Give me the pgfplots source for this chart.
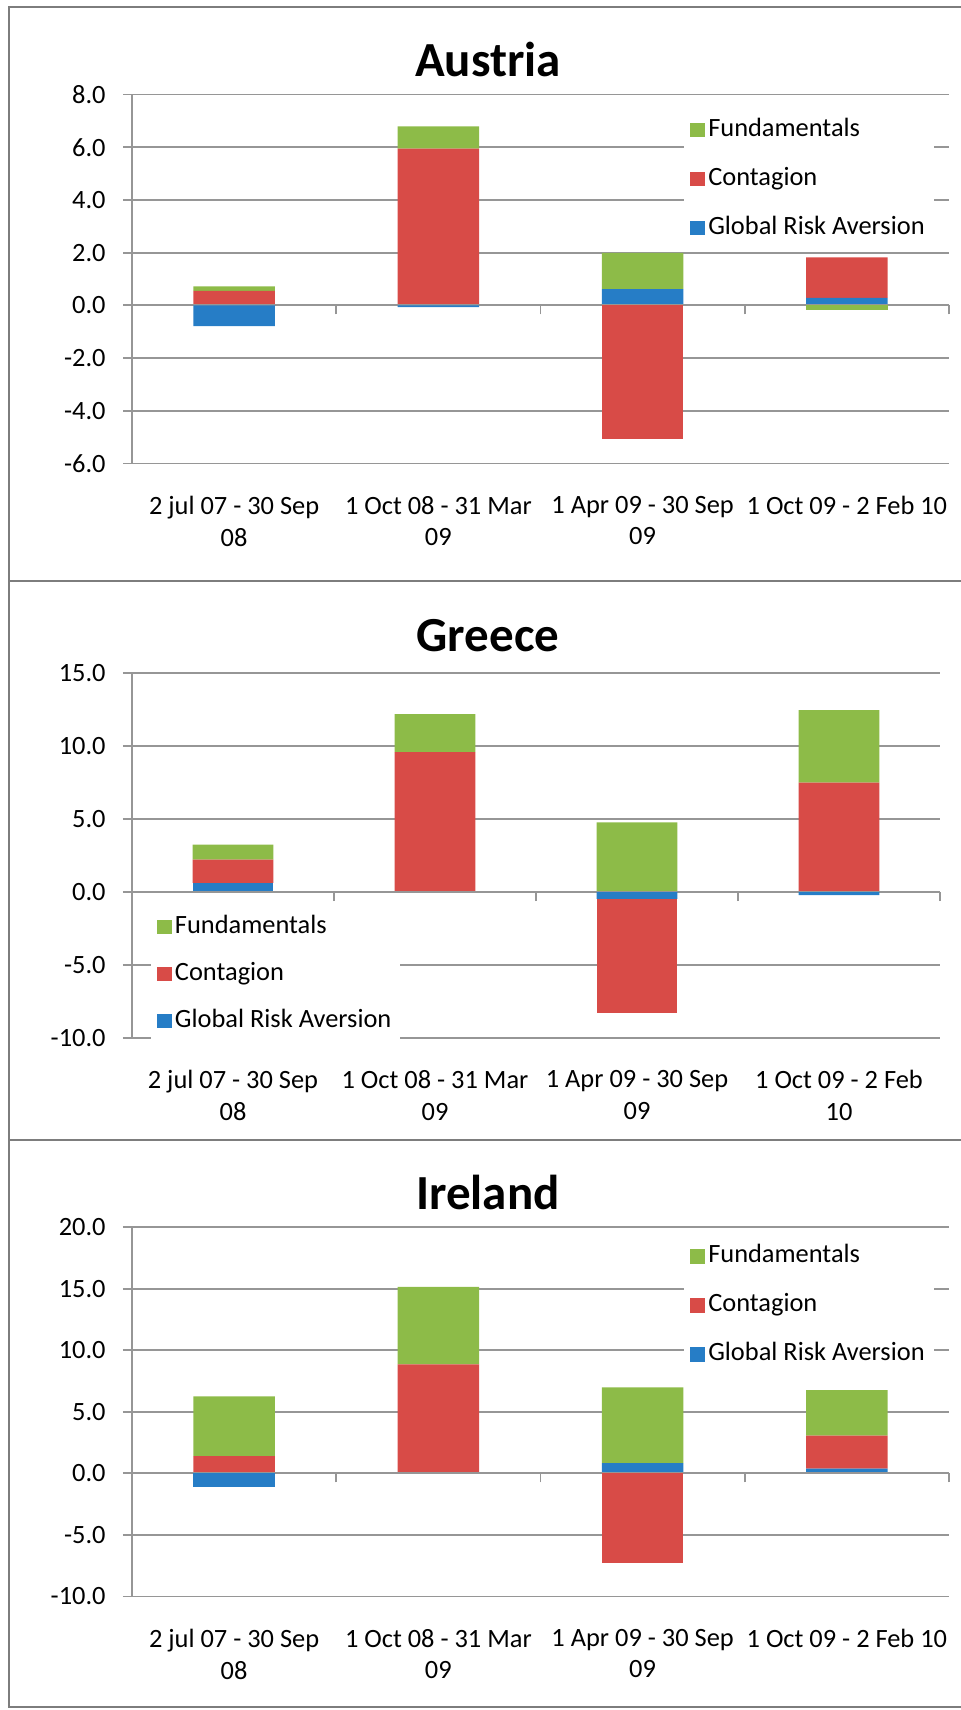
\documentclass[border=0pt]{standalone}
\usepackage{fontspec}
\setmainfont{Carlito}
\usepackage{pgfplots}
\pgfplotsset{compat=1.18}
\usepackage{pgfplotstable}

\definecolor{cF}{RGB}{141,187,72}
\definecolor{cC}{RGB}{216,75,71}
\definecolor{cG}{RGB}{38,125,198}
\definecolor{cGrid}{RGB}{150,150,150}
\definecolor{cFrame}{RGB}{125,125,125}

% x: category; G = Global Risk Aversion, C = Contagion, F = Fundamentals
\pgfplotstableread{
x G C F
0 -0.79 0.55 0.17
1 -0.07 5.95 0.84
2 0.62 -5.08 1.37
3 0.28 1.54 -0.17
}\austria
\pgfplotstableread{
x G C F
0 0.62 1.60 1.02
1 0.00 9.58 2.60
2 -0.47 -7.84 4.77
3 -0.22 7.49 4.96
}\greece
\pgfplotstableread{
x G C F
0 -1.07 1.39 4.85
1 0.00 8.84 6.30
2 0.84 -7.31 6.15
3 0.38 2.68 3.70
}\ireland

\newcommand{\tfont}{\fontsize{13.2}{15.8}\selectfont}

\pgfplotsset{
  base/.style={
    scale only axis, anchor=north west,
    xmin=-0.5, xmax=3.5,
    ybar stacked, bar width=0.4,
    every axis plot/.append style={draw=none},
    tick label style={font=\tfont},
  },
  mainax/.style={
    base,
    axis x line=bottom, axis y line=left,
    axis line style={cGrid, line width=0.9pt, -},
    ymajorgrids, grid style={cGrid, line width=0.9pt},
    xtick={0,1,2,3},
    x tick style={draw=none},
    y tick style={cGrid, line width=0.9pt, xshift=-4.5pt},
    tick align=inside, major tick length=4.5pt,
    yticklabel style={anchor=east, inner xsep=0pt, xshift=-13pt,
      /pgf/number format/.cd, fixed, fixed zerofill, precision=1, assume math mode=true},
    xticklabel style={align=center, yshift=-12.75pt},
    legend cell align=left,
    reverse legend,
    legend image code/.code={\fill[##1] (0pt,-3.6pt) rectangle (7.5pt,3.6pt);},
    legend style={draw=none, fill=white, font=\tfont, inner sep=3pt,
      row sep=10pt,
      nodes={inner xsep=1.5pt, inner ysep=1pt, text height=9.5pt, text depth=3pt}},
  },
  negax/.style={
    base,
    axis y line=none, axis x line=middle,
    axis line style={cGrid, line width=0.9pt, -},
    xtick={0.5,1.5,2.5,3.5}, xticklabels={},
    ytick=\empty,
    x tick style={cGrid, line width=0.9pt},
    xtick align=outside, major tick length=4.5pt,
  },
}

\begin{document}
\begin{tikzpicture}
\useasboundingbox (0,0) rectangle (480pt,-855pt);
% panel frames
\draw[cFrame, line width=1.2pt] (4.5pt,-3.5pt) rectangle (486pt,-853.5pt);
\draw[cFrame, line width=1.2pt] (4.5pt,-290.5pt) -- (486pt,-290.5pt);
\draw[cFrame, line width=1.2pt] (4.5pt,-570pt) -- (486pt,-570pt);

% ---------------- Austria ----------------
\node[font=\fontsize{24.5}{28}\selectfont\bfseries] at (244pt,-29.5pt) {Austria};
\begin{axis}[mainax, at={(66pt,-47.25pt)}, width=408.5pt, height=184.5pt,
  ymin=-6, ymax=8, ytick={-6,-4,...,8},
  xticklabels={{2 jul 07 - 30 Sep\\08},{1 Oct 08 - 31 Mar\\09},{1 Apr 09 - 30 Sep\\09},{1 Oct 09 - 2 Feb 10}},
  legend style={at={(rel axis cs:0.6755,0.961)}, anchor=north west}]
\addplot[fill=cG] table[x=x, y expr={max(\thisrow{G},0)}] {\austria};
\addplot[fill=cC] table[x=x, y expr={max(\thisrow{C},0)}] {\austria};
\addplot[fill=cF] table[x=x, y expr={max(\thisrow{F},0)}] {\austria};
\legend{Global Risk Aversion, Contagion, Fundamentals}
\end{axis}
\begin{axis}[negax, at={(66pt,-47.25pt)}, width=408.5pt, height=184.5pt, ymin=-6, ymax=8]
\addplot[fill=cG] table[x=x, y expr={min(\thisrow{G},0)}] {\austria};
\addplot[fill=cC] table[x=x, y expr={min(\thisrow{C},0)}] {\austria};
\addplot[fill=cF] table[x=x, y expr={min(\thisrow{F},0)}] {\austria};
\end{axis}

% ---------------- Greece ----------------
\node[font=\fontsize{24.5}{28}\selectfont\bfseries] at (244pt,-318pt) {Greece};
\begin{axis}[mainax, at={(66pt,-336.5pt)}, width=404pt, height=182.5pt,
  ymin=-10, ymax=15, ytick={-10,-5,...,15},
  xticklabels={{2 jul 07 - 30 Sep\\08},{1 Oct 08 - 31 Mar\\09},{1 Apr 09 - 30 Sep\\09},{1 Oct 09 - 2 Feb\\10}},
  legend style={at={(rel axis cs:0.023,0.362)}, anchor=north west, row sep=9pt}]
\addplot[fill=cG] table[x=x, y expr={max(\thisrow{G},0)}] {\greece};
\addplot[fill=cC] table[x=x, y expr={max(\thisrow{C},0)}] {\greece};
\addplot[fill=cF] table[x=x, y expr={max(\thisrow{F},0)}] {\greece};
\legend{Global Risk Aversion, Contagion, Fundamentals}
\end{axis}
\begin{axis}[negax, at={(66pt,-336.5pt)}, width=404pt, height=182.5pt, ymin=-10, ymax=15]
\addplot[fill=cG] table[x=x, y expr={min(\thisrow{G},0)}] {\greece};
\addplot[fill=cC] table[x=x, y expr={min(\thisrow{C},0)}] {\greece};
\addplot[fill=cF] table[x=x, y expr={min(\thisrow{F},0)}] {\greece};
\end{axis}

% ---------------- Ireland ----------------
\node[font=\fontsize{24.5}{28}\selectfont\bfseries] at (244pt,-596pt) {Ireland};
\begin{axis}[mainax, at={(66pt,-613.5pt)}, width=408.5pt, height=184.75pt,
  ymin=-10, ymax=20, ytick={-10,-5,...,20},
  xticklabels={{2 jul 07 - 30 Sep\\08},{1 Oct 08 - 31 Mar\\09},{1 Apr 09 - 30 Sep\\09},{1 Oct 09 - 2 Feb 10}},
  legend style={at={(rel axis cs:0.6755,0.977)}, anchor=north west}]
\addplot[fill=cG] table[x=x, y expr={max(\thisrow{G},0)}] {\ireland};
\addplot[fill=cC] table[x=x, y expr={max(\thisrow{C},0)}] {\ireland};
\addplot[fill=cF] table[x=x, y expr={max(\thisrow{F},0)}] {\ireland};
\legend{Global Risk Aversion, Contagion, Fundamentals}
\end{axis}
\begin{axis}[negax, at={(66pt,-613.5pt)}, width=408.5pt, height=184.75pt, ymin=-10, ymax=20]
\addplot[fill=cG] table[x=x, y expr={min(\thisrow{G},0)}] {\ireland};
\addplot[fill=cC] table[x=x, y expr={min(\thisrow{C},0)}] {\ireland};
\addplot[fill=cF] table[x=x, y expr={min(\thisrow{F},0)}] {\ireland};
\end{axis}
\end{tikzpicture}
\end{document}
